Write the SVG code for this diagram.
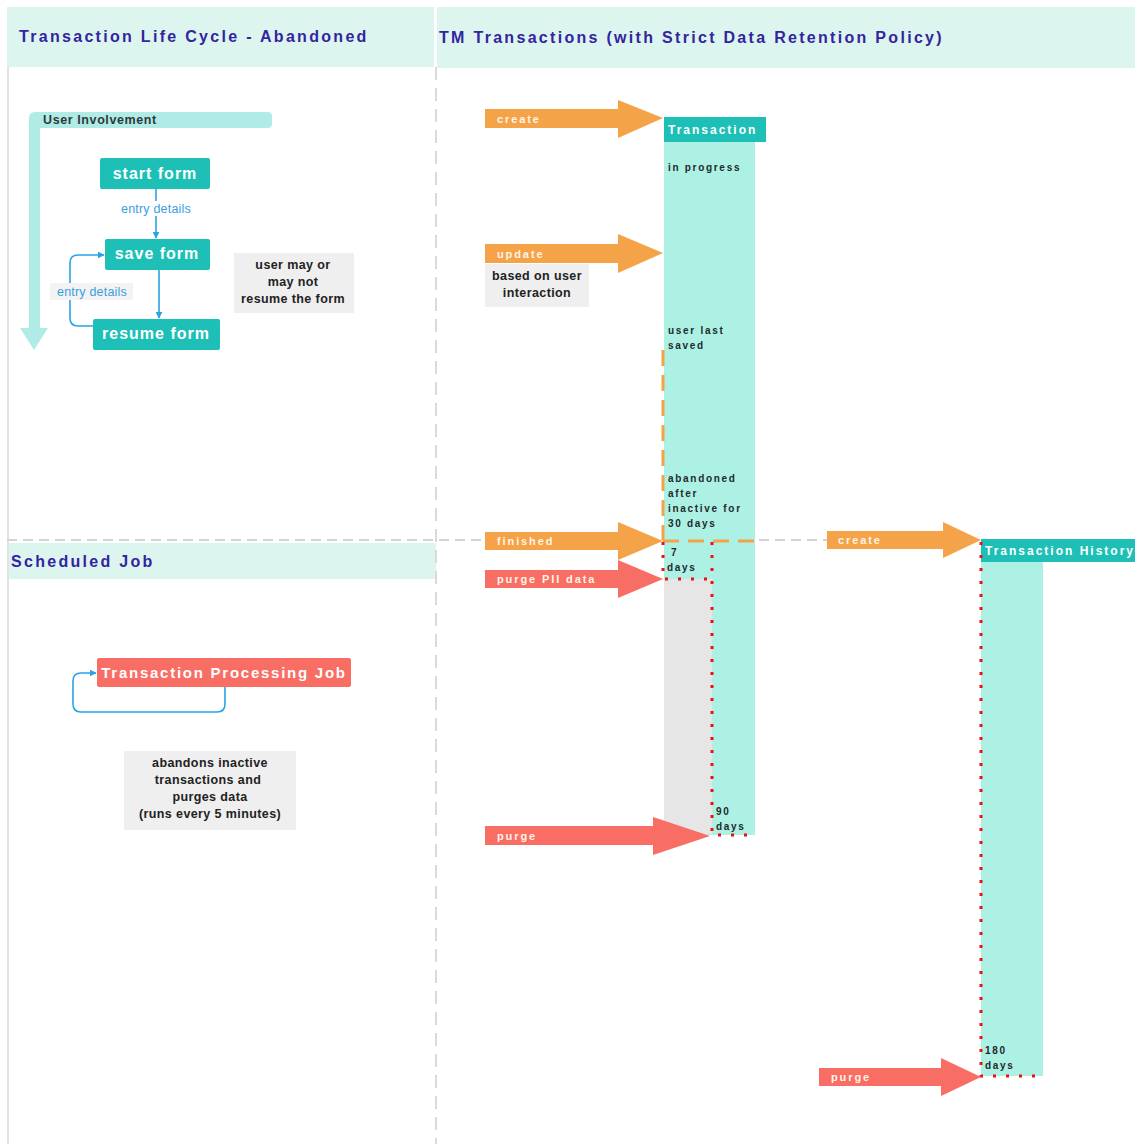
<svg xmlns="http://www.w3.org/2000/svg" width="1135" height="1144" viewBox="0 0 1135 1144">
<defs>
<style>
.hdr{fill:#dcf5ee}
.title{font-family:"Liberation Sans",Arial,sans-serif;font-weight:bold;fill:#3424a0;letter-spacing:2.3px}
.btn{fill:#1dbfb6}
.btnt{font-family:"Liberation Sans",Arial,sans-serif;font-weight:bold;fill:#ffffff;font-size:16px;letter-spacing:1px;text-anchor:middle}
.lbl{font-family:"Liberation Sans",Arial,sans-serif;font-size:12.5px;letter-spacing:0.2px;fill:#3a9ee0;text-anchor:middle}
.note{fill:#efefef}
.notet{font-family:"Liberation Sans",Arial,sans-serif;font-weight:bold;font-size:12.5px;letter-spacing:0.4px;fill:#222;text-anchor:middle}
.col{fill:#adf1e5}
.small{font-family:"Liberation Sans",Arial,sans-serif;font-weight:bold;font-size:10px;fill:#1e2a2a;letter-spacing:1.7px}
.arrt{font-family:"Liberation Sans",Arial,sans-serif;font-weight:bold;font-size:11px;fill:#fff4e6;letter-spacing:1.9px}
.orange{fill:#f4a348}
.red{fill:#f86e64}
.hdt{font-family:"Liberation Sans",Arial,sans-serif;font-weight:bold;font-size:12px;fill:#ffffff;letter-spacing:2px}
.conn{fill:none;stroke:#2aa3e6;stroke-width:1.6}
.dots{fill:none;stroke:#ee1111;stroke-width:3;stroke-dasharray:3 10}
.odash{fill:none;stroke:#f4a348;stroke-width:3;stroke-dasharray:16 9}
</style>
<marker id="ah" viewBox="0 0 10 10" refX="9" refY="5" markerWidth="7" markerHeight="7" orient="auto" markerUnits="userSpaceOnUse">
<path d="M0,0 L10,5 L0,10 z" fill="#2aa3e6"/>
</marker>
</defs>
<rect width="1135" height="1144" fill="#ffffff"/>

<g id="lanes">
<rect class="hdr" x="7" y="7" width="427" height="60"/>
<rect class="hdr" x="437" y="7" width="698" height="61"/>
<rect class="hdr" x="7" y="543" width="429" height="36"/>
<line x1="8" y1="67" x2="8" y2="1144" stroke="#e2e2e2" stroke-width="2"/>
<line x1="436" y1="67" x2="436" y2="1144" stroke="#dadada" stroke-width="2" stroke-dasharray="13 8"/>
<line x1="7" y1="540" x2="1135" y2="540" stroke="#d4d4d4" stroke-width="2" stroke-dasharray="10 6"/>
<text class="title" x="19" y="42" font-size="16">Transaction Life Cycle - Abandoned</text>
<text class="title" x="439" y="43" font-size="16">TM Transactions (with Strict Data Retention Policy)</text>
<text class="title" x="11" y="567" font-size="16">Scheduled Job</text>
</g>

<g id="user-involvement">
<path d="M29,118 Q29,112 35,112 L268,112 Q272,112 272,116 L272,124 Q272,128 268,128 L40,128 L40,328 L48,328 L34,350 L20,328 L29,328 Z" fill="#b0ebe6"/>
<text x="43" y="124" font-family="Liberation Sans,Arial,sans-serif" font-weight="bold" font-size="12.5" letter-spacing="0.6" fill="#2b3a3a">User Involvement</text>
</g>

<g id="connectors">
<line class="conn" x1="156" y1="189" x2="156" y2="238" marker-end="url(#ah)"/>
<line class="conn" x1="159" y1="270" x2="159" y2="318" marker-end="url(#ah)"/>
<path class="conn" d="M93,326 L78,326 Q70,326 70,318 L70,263 Q70,255 78,255 L104,255" marker-end="url(#ah)"/>
<path class="conn" d="M225,687 L225,704 Q225,712 217,712 L81,712 Q73,712 73,704 L73,681 Q73,673 81,673 L96,673" marker-end="url(#ah)"/>
<rect x="116" y="201" width="80" height="15" fill="#ffffff"/>
<text class="lbl" x="156" y="213">entry details</text>
<rect x="50" y="283" width="83" height="17" fill="#f3f3f3"/>
<text class="lbl" x="92" y="296">entry details</text>
</g>

<g id="start-form">
<rect class="btn" x="100" y="158" width="110" height="31" rx="2"/>
<text class="btnt" x="155" y="179">start form</text>
</g>
<g id="save-form">
<rect class="btn" x="105" y="239" width="105" height="31" rx="2"/>
<text class="btnt" x="157" y="259">save form</text>
</g>
<g id="resume-form">
<rect class="btn" x="93" y="319" width="127" height="31" rx="2"/>
<text class="btnt" x="156" y="339">resume form</text>
</g>
<g id="note-resume">
<rect class="note" x="234" y="253" width="120" height="60"/>
<text class="notet" x="293" y="269">user may or</text>
<text class="notet" x="293" y="286">may not</text>
<text class="notet" x="293" y="303">resume the form</text>
</g>

<g id="processing-job">
<rect x="97" y="658" width="254" height="29" rx="2" class="red"/>
<text x="224" y="678" font-family="Liberation Sans,Arial,sans-serif" font-weight="bold" font-size="15" fill="#ffffff" letter-spacing="1.75" text-anchor="middle">Transaction Processing Job</text>
</g>
<g id="note-job">
<rect class="note" x="124" y="751" width="172" height="79"/>
<text class="notet" x="210" y="767">abandons inactive</text>
<text class="notet" x="208" y="784">transactions and</text>
<text class="notet" x="210" y="801">purges data</text>
<text class="notet" x="210" y="818">(runs every 5 minutes)</text>
</g>

<g id="transaction">
<rect class="col" x="664" y="142" width="91" height="693"/>
<rect x="664" y="579" width="48" height="255" fill="#e6e6e6"/>
<rect class="btn" x="664" y="117" width="102" height="25"/>
<text class="hdt" x="668" y="134">Transaction</text>
<text class="small" x="668" y="171">in progress</text>
<text class="small" x="668" y="334">user last</text>
<text class="small" x="668" y="349">saved</text>
<text class="small" x="668" y="482">abandoned</text>
<text class="small" x="668" y="497">after</text>
<text class="small" x="668" y="512">inactive for</text>
<text class="small" x="668" y="527">30 days</text>
<text class="small" x="671" y="556">7</text>
<text class="small" x="667" y="571">days</text>
<text class="small" x="716" y="815">90</text>
<text class="small" x="716" y="830">days</text>
</g>

<g id="transaction-history">
<rect class="col" x="981" y="562" width="62" height="514"/>
<rect class="btn" x="981" y="539" width="154" height="23"/>
<text class="hdt" x="985" y="555">Transaction History</text>
<text class="small" x="985" y="1054">180</text>
<text class="small" x="985" y="1069">days</text>
</g>

<g id="timelines">
<line class="odash" x1="663" y1="350" x2="663" y2="540"/>
<line class="odash" x1="663" y1="541" x2="755" y2="541"/>
<path class="dots" d="M663,542 L663,579 L712,579"/>
<path class="dots" d="M712,542 L712,835 L756,835"/>
<path class="dots" d="M981,542 L981,1076 L1043,1076"/>
</g>

<g id="arrows">
<polygon class="orange" points="485,109 618,109 618,100 663,118 618,138 618,128 485,128"/>
<text class="arrt" x="497" y="123">create</text>
<polygon class="orange" points="485,244 618,244 618,234 663,253 618,273 618,263 485,263"/>
<text class="arrt" x="497" y="258">update</text>
<polygon class="orange" points="485,532 618,532 618,522 663,541 618,560 618,550 485,550"/>
<text class="arrt" x="497" y="545">finished</text>
<polygon class="red" points="485,570 618,570 618,560 663,579 618,598 618,588 485,588"/>
<text class="arrt" x="497" y="583">purge PII data</text>
<polygon class="red" points="485,826 653,826 653,817 710,836 653,855 653,845 485,845"/>
<text class="arrt" x="497" y="840">purge</text>
<polygon class="orange" points="827,531 943,531 943,522 981,540 943,558 943,549 827,549"/>
<text class="arrt" x="838" y="544">create</text>
<polygon class="red" points="819,1068 941,1068 941,1058 981,1077 941,1096 941,1086 819,1086"/>
<text class="arrt" x="831" y="1081">purge</text>
</g>

<g id="note-update">
<rect class="note" x="485" y="264" width="104" height="43"/>
<text class="notet" x="537" y="280">based on user</text>
<text class="notet" x="537" y="297">interaction</text>
</g>
</svg>
